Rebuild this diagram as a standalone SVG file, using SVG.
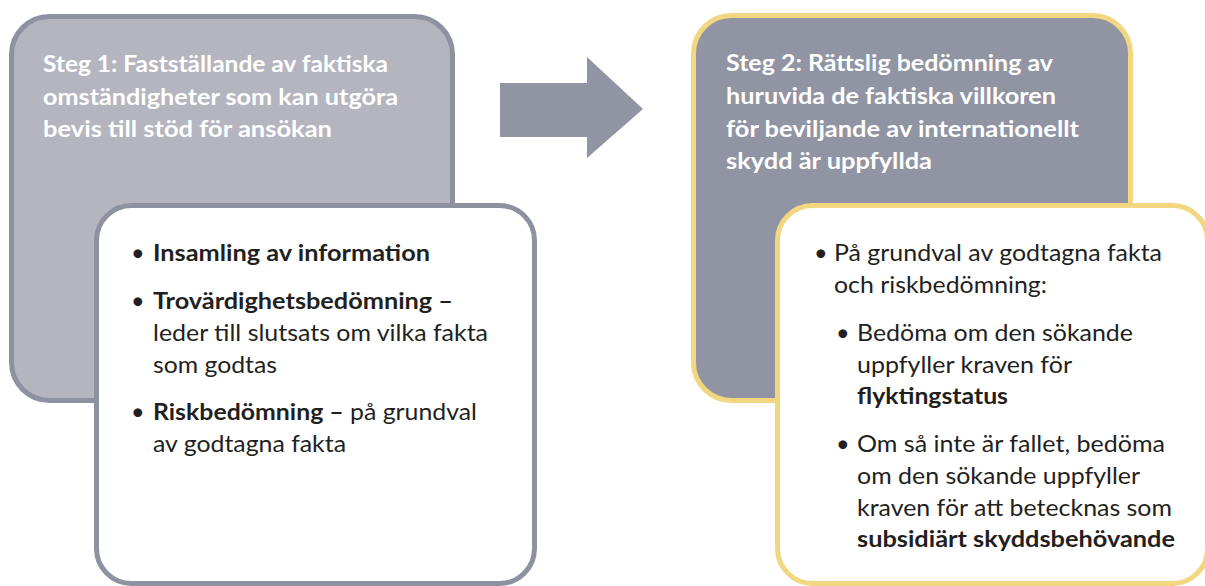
<svg xmlns="http://www.w3.org/2000/svg" width="1205" height="586" viewBox="0 0 1205 586">
<style>
.o1{fill:#b5b5c0;stroke:#8e91a0;stroke-width:5}
.o2{fill:#9094a3;stroke:#f2d680;stroke-width:5}
.i1{fill:#fff;stroke:#8e91a0;stroke-width:5}
.i2{fill:#fff;stroke:#f2d680;stroke-width:5}
.t{font-family:Lato,"Open Sans","Liberation Sans",sans-serif;font-size:23.5px;font-weight:bold;fill:#fff}
.b{font-family:Lato,"Open Sans","Liberation Sans",sans-serif;font-size:23.5px;fill:#231f20}
.bd{font-weight:bold}
</style>
<rect width="1205" height="586" fill="#fff"/>
<g id="step1">
<rect class="o1" x="11.5" y="16.5" width="441" height="384" rx="38"/>
<text class="t" x="43" y="72" textLength="345" lengthAdjust="spacingAndGlyphs">Steg 1: Fastställande av faktiska</text>
<text class="t" x="43" y="105" textLength="355" lengthAdjust="spacingAndGlyphs">omständigheter som kan utgöra</text>
<text class="t" x="43" y="137" textLength="289" lengthAdjust="spacingAndGlyphs">bevis till stöd för ansökan</text>
</g>
<g id="step1-details">
<rect class="i1" x="96.5" y="205.5" width="438" height="378" rx="35"/>
<text class="b" x="131" y="261">•</text>
<text class="b bd" x="153" y="261" textLength="277" lengthAdjust="spacingAndGlyphs">Insamling av information</text>
<text class="b" x="131" y="309">•</text>
<text class="b bd" x="153" y="309" textLength="300" lengthAdjust="spacingAndGlyphs">Trovärdighetsbedömning –</text>
<text class="b" x="153" y="341" textLength="335" lengthAdjust="spacingAndGlyphs">leder till slutsats om vilka fakta</text>
<text class="b" x="153" y="373" textLength="124" lengthAdjust="spacingAndGlyphs">som godtas</text>
<text class="b" x="131" y="420">•</text>
<text class="b" x="153" y="420" textLength="324" lengthAdjust="spacingAndGlyphs"><tspan class="bd">Riskbedömning –</tspan> på grundval</text>
<text class="b" x="153" y="452" textLength="193" lengthAdjust="spacingAndGlyphs">av godtagna fakta</text>
</g>
<g id="connectors">
<polygon points="500,83 587,83 587,57 643,109 587,158 587,137 500,137" fill="#9094a3"/>
</g>
<g id="step2">
<rect class="o2" x="693.5" y="15.5" width="437" height="385" rx="38"/>
<text class="t" x="726" y="71" textLength="327" lengthAdjust="spacingAndGlyphs">Steg 2: Rättslig bedömning av</text>
<text class="t" x="726" y="104" textLength="330" lengthAdjust="spacingAndGlyphs">huruvida de faktiska villkoren</text>
<text class="t" x="726" y="137" textLength="353" lengthAdjust="spacingAndGlyphs">för beviljande av internationellt</text>
<text class="t" x="726" y="169" textLength="206" lengthAdjust="spacingAndGlyphs">skydd är uppfyllda</text>
</g>
<g id="step2-details">
<rect class="i2" x="777.5" y="205.5" width="430" height="378" rx="35"/>
<text class="b" x="814" y="261">•</text>
<text class="b" x="834" y="261" textLength="328" lengthAdjust="spacingAndGlyphs">På grundval av godtagna fakta</text>
<text class="b" x="834" y="293" textLength="213" lengthAdjust="spacingAndGlyphs">och riskbedömning:</text>
<text class="b" x="836" y="341">•</text>
<text class="b" x="857" y="341" textLength="276" lengthAdjust="spacingAndGlyphs">Bedöma om den sökande</text>
<text class="b" x="857" y="373" textLength="215" lengthAdjust="spacingAndGlyphs">uppfyller kraven för</text>
<text class="b bd" x="857" y="404" textLength="151" lengthAdjust="spacingAndGlyphs">flyktingstatus</text>
<text class="b" x="836" y="452">•</text>
<text class="b" x="857" y="452" textLength="308" lengthAdjust="spacingAndGlyphs">Om så inte är fallet, bedöma</text>
<text class="b" x="857" y="484" textLength="283" lengthAdjust="spacingAndGlyphs">om den sökande uppfyller</text>
<text class="b" x="857" y="516" textLength="315" lengthAdjust="spacingAndGlyphs">kraven för att betecknas som</text>
<text class="b bd" x="857" y="547" textLength="318" lengthAdjust="spacingAndGlyphs">subsidiärt skyddsbehövande</text>
</g>
</svg>
